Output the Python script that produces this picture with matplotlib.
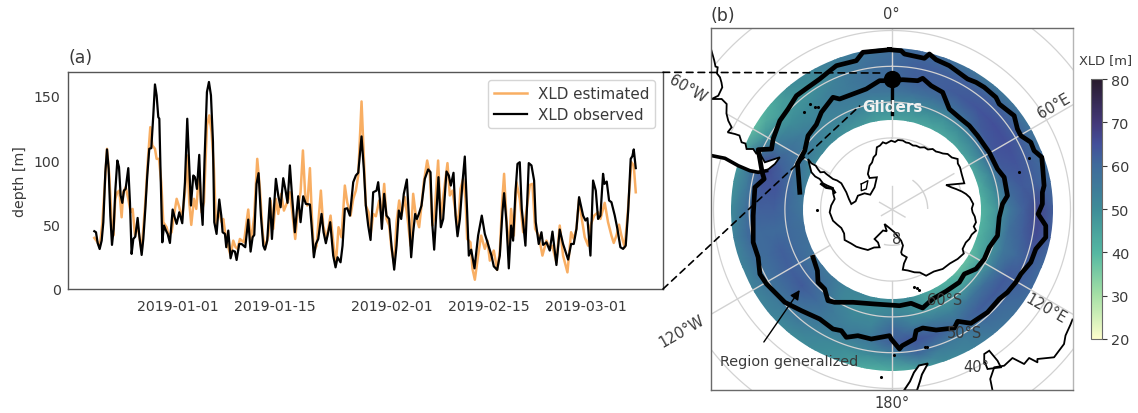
"""
XLD time series at the gliders and Southern Ocean map of XLD
"""
import matplotlib
matplotlib.use('Agg')
import matplotlib.pyplot as plt
import matplotlib.dates as mdates
import numpy as np
import pandas as pd
from matplotlib.colors import LinearSegmentedColormap
from matplotlib.patches import ConnectionPatch, Wedge

# panel (a): days since 2018-12-20 and depth in metres
obs_day = [0.0,.24,.48,.77,1.06,1.3,1.59,1.83,2.07,2.31,2.55,2.79,3.03,3.32,3.56,3.8,4.04,4.28,4.52,4.9,5.14,5.38,5.63,5.91,6.25,6.49,6.83,7.07,7.36,7.64,7.93,8.22,8.51,8.75,8.99,9.23,9.38,9.57,9.81,10.05,10.34,10.58,10.91,11.3,11.63,11.88,12.26,12.69,13.08,13.41,13.65,13.94,14.28,14.52,14.81,15.14,15.38,15.63,15.91,16.25,16.54,16.83,17.12,17.31,17.64,18.03,18.32,18.51,18.85,19.04,19.33,19.66,19.95,20.29,20.53,20.91,21.25,21.78,22.21,22.55,22.84,23.08,23.41,23.7,24.04,24.38,24.62,24.95,25.34,25.63,26.2,26.54,26.88,27.26,27.6,27.88,28.22,28.56,28.94,29.42,29.76,30.14,30.53,31.11,31.35,31.68,31.97,32.31,32.79,33.08,33.41,33.75,34.04,34.47,34.81,35.1,35.53,35.82,36.15,36.49,36.88,37.36,37.74,38.08,38.56,38.89,39.18,39.52,39.86,
           40.24,40.72,40.96,41.2,41.49,41.83,42.16,42.55,42.88,43.27,43.61,43.94,44.28,44.66,45.1,45.38,45.72,46.01,46.3,46.54,46.83,47.21,47.69,48.17,48.51,48.75,49.04,49.28,49.66,50.0,50.34,50.82,51.15,51.44,51.83,52.12,52.41,52.75,53.13,53.46,53.8,54.04,54.38,54.86,55.38,55.91,56.35,56.73,57.31,57.64,58.13,58.51,58.89,59.13,59.47,59.81,60.14,60.43,60.77,61.06,61.39,61.68,62.21,62.69,63.08,63.46,63.7,64.13,64.52,64.76,65.24,65.72,66.11,66.68,67.16,67.64,68.37,68.8,69.18,69.57,69.95,70.53,70.87,71.15,71.59,71.97,72.36,72.69,73.03,73.41,73.61,73.94,74.28,74.62,75.1,75.48,75.91,76.3,76.68,77.02,77.4,77.64,77.84,78.13]
obs_depth = [44.8,44,35.7,31,37.5,51.8,90.6,108.2,93.2,56.9,34.2,46.6,76.3,99.6,94.5,72.5,66.8,76.3,77.6,93.7,67.3,27.2,38.8,40.6,55.1,41.4,26.4,38.8,62.1,88,108.7,109.2,134.6,158.6,150.1,133.3,132,88,36.2,49.2,45.3,42.7,35.7,61.6,54.9,50.5,59.5,51,82.8,132,100.9,64.7,88,86.7,77.6,104,67.3,49.7,100.9,152.7,160.5,150.1,113.9,51.8,42.7,69.4,56.9,44,42.7,32.4,45.3,23.8,29.8,29,22.5,34.9,34.9,32.4,53.8,29,40.1,41.9,81.5,89.8,56.9,33.6,30.5,37.5,70.4,38.8,85.4,72.5,63.4,85.9,76.3,66.8,95.8,69.9,44,71.9,51.8,71.9,66,65.5,49.2,24.6,34.9,38.8,58.2,44,35.5,44,51.8,25.9,16.8,24.6,20.7,33.6,62.1,62.6,56.9,82.8,88,90.1,118.3,93.2,64.7,49.2,38,
             75,76.3,82.8,69.9,46.6,73.8,56.9,54.3,33.6,15,33.6,60.8,54.3,73.8,84.9,56.9,24.6,44,58.2,54.3,58.2,64.7,85.4,92.7,90.6,51.8,30.5,51.8,86.7,47.9,54.3,91.1,88,80.2,90.1,56.9,40.9,54.3,82.8,102.7,59.5,25.9,30.5,16,41.4,56.9,42.7,36.2,25.9,17.6,14.8,25.9,59.5,74.3,51.8,16,49.2,37.5,75,97,98.3,62.1,33.6,97.6,95.8,84.1,51.8,34.9,44,34.2,36.2,29.8,44.5,18.6,46.1,34.9,22.8,34.9,34.9,46.6,71.2,56.9,53.1,54.9,25.9,84.1,76.3,54.3,56.9,89.3,81.5,83.3,68.6,67.3,56.9,46.6,32.4,31.1,33.6,59.5,100.9,103,108.2,93.7]
est_day = [0,.48,.77,1.15,1.54,1.83,2.16,2.5,2.74,3.03,3.32,3.61,3.94,4.18,4.52,4.9,5.24,5.53,5.87,6.25,6.83,7.36,7.74,8.08,8.37,8.75,8.99,9.33,9.66,9.95,10.43,10.72,11.15,11.49,11.88,12.26,12.64,13.08,13.41,13.7,13.99,14.38,14.71,15.14,15.48,15.82,16.25,16.59,16.92,17.26,17.55,17.98,18.37,18.61,18.94,19.33,19.66,20.05,20.38,20.67,21.01,21.59,22.21,22.6,23.08,23.51,23.89,24.28,24.62,25.1,25.43,25.82,26.2,26.54,26.97,27.36,27.84,28.22,28.56,28.99,29.42,29.76,30.1,30.43,30.72,31.11,31.39,31.68,32.07,32.69,33.03,33.51,34.09,34.57,34.86,35.24,35.67,36.15,36.49,36.97,37.36,37.74,38.08,38.56,38.89,39.18,39.57,39.86,
           40.24,40.63,41.11,41.44,41.83,42.16,42.55,42.88,43.27,43.61,43.99,44.33,44.81,45.29,45.63,46.01,46.39,46.87,47.21,47.55,48.03,48.41,48.8,49.08,49.61,50.0,50.43,50.96,51.3,51.68,52.12,52.5,52.84,53.22,53.56,53.8,54.28,54.57,54.91,55.38,55.82,56.35,56.73,57.07,57.64,58.13,58.51,58.85,59.13,59.47,59.81,60.14,60.53,60.91,61.39,61.88,62.26,62.84,63.22,63.61,64.13,64.66,65.24,65.72,66.06,66.68,67.16,67.64,68.27,68.8,69.18,69.57,69.95,70.38,70.77,71.25,71.59,72.12,72.69,73.03,73.65,74.13,74.62,74.95,75.34,75.72,76.06,76.54,77.02,77.5,77.84,78.13]
est_depth = [39.6,36.2,32.4,50.5,82.8,108.7,88,51.8,41.4,69.9,75,76.3,55.6,75,78.9,69.9,59.5,62.1,41.4,49.2,29.8,67.3,100.9,125.5,111.3,108.7,100.9,100.9,82.8,51.8,47.9,41.4,44,56.9,69.9,63.4,54.3,75,103.5,67.3,49.7,69.9,62.1,90.6,59.5,67.3,126.8,134.6,121.6,93.2,49.2,60.8,51.8,54.3,41.4,32.4,25.9,37.5,32.4,31.1,38.8,36.2,61.6,36.2,56.9,100.9,77.6,44,31.1,41.4,68.6,46.6,69.9,58.2,73.8,60.8,67.3,75,59.5,38.8,64.7,75,107.4,72.5,64.7,93.7,56.9,28.5,33.6,76.3,49.2,38.8,56.9,31.1,19.4,47.9,40.1,80.2,67.3,56.9,69.9,76.3,88,145.4,103.5,64.7,59.5,41.4,
             58.2,56.4,68.6,56.9,81.5,54.3,49.2,31.1,19.4,51.8,68.6,56.9,71.2,50.5,33.6,73.8,56.9,47.9,64.7,82.8,99.6,89.3,49.2,56.9,99.6,54.3,75,97.6,72.5,76.3,59.5,47.9,77.6,85.4,69.9,38.8,36.2,15.5,7.2,25.9,41.4,31.1,37.5,22,29.8,14.8,28.5,67.3,89.3,54.3,28.5,62.1,41.4,82.8,69.9,44,56.9,80.7,81.5,46.6,41.4,25.9,37.5,31.1,33.6,20.7,49.2,25.9,12.9,44,38.8,46.6,69.9,53.1,40.1,33.6,49.2,56.9,59.5,54.3,66.8,51.8,41.4,35.7,41.4,49.9,41.4,32.4,62.1,98.3,95.8,75]
date_ticks = ['2019-01-01', '2019-01-15', '2019-02-01', '2019-02-15', '2019-03-01']

# panel (b): mean XLD per longitude (rows, every 10 deg east of 0) and latitude (columns)
field_lat = [-45, -49, -53, -57, -61, -65]
field_lon = list(range(0, 370, 10))
field_xld = [
    [58,60,60,57,50,44],[60,62,62,58,50,44],[58,62,62,58,50,43],[56,62,63,58,49,43],
    [55,62,64,60,50,43],[56,62,65,63,52,44],[56,62,65,64,54,43],[58,62,64,63,52,42],
    [60,62,63,60,50,41],[62,67,62,56,47,40],[62,66,62,58,47,40],[60,63,60,56,47,40],
    [60,62,63,56,46,38],[58,60,63,58,46,37],[56,59,62,56,46,40],[53,55,59,53,47,42],
    [50,55,62,55,47,45],[45,60,64,55,50,50],[42,52,62,60,52,50],[42,50,56,52,50,50],
    [48,50,55,52,50,52],[50,52,55,55,52,52],[50,55,57,60,58,55],[52,55,60,63,60,56],
    [52,57,60,62,60,57],[52,58,60,62,60,58],[52,60,60,60,60,58],[50,58,62,62,60,56],
    [48,56,64,64,60,54],[45,60,66,62,58,52],[38,48,55,58,56,50],[42,46,50,54,54,50],
    [50,48,50,52,52,50],[52,50,53,54,52,48],[54,55,55,55,52,47],[56,58,58,56,50,45],
    [58,60,60,57,50,44]]
cbar_ticks = [20, 30, 40, 50, 60, 70, 80]

# outlines in map units, pole at (0, 0), 3.58 units per degree of latitude
outer_x = [-2.5,9.2,12.5,32.5,37.5,44.2,57.5,75.8,84.2,92.5,104.2,107.5,122.5,125.8,129.2,139.2,142.5,150.2,151.5,152.5,150.8,150.8,146.5,154.2,154.2,144.2,139.2,129.2,124.2,115.8,107.5,95.8,79.2,65.8,62.5,44.2,30.8,24.2,22.5,10.2,7.5,-0.8,-2.5,-20.8,-34.2,-45.8,-50.8,-59.2,-72.5,-90.8,-107.5,-125.8,-132.5,-134.2,-139.2,-139.2,-137.5,-128.2,-130.2,-132.5,-134.2,-120.8,-119.2,-112.5,-104.2,-95.8,-84.2,-72.5,-64.2,-55.8,-35.8,-29.2,-2.5]
outer_y = [159.8,158.8,155.5,151.2,155.5,149.8,143.8,130.5,127.2,122.2,112.2,105.5,93.8,80.5,73.8,67.2,58.8,52.2,37.2,23.8,17.2,5.5,-4.5,-16.2,-27.8,-39.5,-52.8,-64.5,-72.8,-82.8,-89.5,-102.8,-113.8,-111.8,-118.5,-120.5,-118.5,-121.2,-129.5,-136.2,-139.5,-129.5,-126.2,-129.5,-126.2,-127.8,-121.2,-119.5,-109.5,-101.2,-92.8,-74.5,-64.5,-47.8,-32.8,-6.2,22.2,30.5,37.2,50.5,59.8,60.5,70.5,88.8,100.5,113.8,122.2,130.5,137.2,143.8,148.8,157.2,159.8]
inner_x = [-92.5,-93.5,-94.8,-87.5,-84.2,-75.8,-70.8,-59.2,-52.5,-25.8,-12.5,-2.5,10.8,25.8,30.8,39.2,50.8,57.5,69.2,77.5,85.8,97.5,105.8,112.5,115.8,110.8,107.5,105.8,97.5,92.5,84.2,72.5,67.5,54.2,40.8,30.8,19.2,7.5,-2.5,-17.5,-39.2,-57.5,-64.2,-67.5,-74.2,-74.8,-79.2]
inner_y = [17.2,30.5,45.5,58.8,73.8,85,97.2,112.2,110.5,120.5,128.8,128.8,129.8,128.8,131.2,123.8,117.2,100.5,90.5,83.8,73.8,57.2,40.5,32.2,13.8,5.5,-7.8,-26.2,-37.8,-49.5,-59.5,-64.5,-72.8,-81.8,-89.5,-98.5,-93.8,-96.2,-95.5,-94.5,-92.8,-92.8,-91.2,-79.5,-72.8,-61.2,-47.8]
antarctica_x = [-84.2,-80.8,-76.5,-74,-71.8,-68,-65.8,-59.2,-55,-50.8,-45.8,-43.2,-40.8,-36.5,-34.2,-27.5,-21.8,-17.5,-15.2,-22.5,-24.2,-22.5,-20,-18.5,-16,-15.2,-12,-9.2,-6,-0.8,3,6,10.8,14,17,21,24.2,28,32.5,36,40.8,44,47.5,51,55.8,60,65.8,66,68.2,70,72.5,54.2,60,64.2,70,74.2,78,81.5,80,80.8,83,84.2,82,84.2,80,77.5,74,70.8,72,65.8,58,50.8,42,34.2,28,22.5,16,10.8,12,14.8,10,9.2,11,9.2,2.5,-2,-7.5,-5.2,-9,-12.5,-17.5,-14,-12.5,-18,-24.2,-30,-35.8,-41,-47.5,-48,-50.8,-55,-59.2,-62.5,-61,-57.5,-59,-59.2,-65,-69.2,-72.5,-77,-80.8,-84.2]
antarctica_y = [50.5,46.2,43.8,40,37.2,37.5,35.5,30.5,29,26.2,17.2,10.5,5.5,8.2,13.8,16.2,14.8,22.2,32.2,31.5,35.5,43.8,47,52.2,55,62.2,64,67.2,66,68.8,67.5,69.5,69,67,66.5,64,63.8,62,62.2,60,60.5,58,57.2,56,55.5,52,50.5,46,42.2,35,26.2,24.5,22,20.5,18,15.5,12,5.5,1,-2.8,-7,-12.8,-17,-21.2,-25,-29.5,-33,-39.5,-44,-49.5,-54,-59.5,-62,-66.2,-63,-62.8,-61,-60.2,-54,-47.8,-45,-42.8,-36,-31.2,-22.8,-19,-14.5,-21.8,-21,-24.5,-29.5,-33,-37.8,-38,-40.5,-39,-37.2,-34,-30.5,-24,-18.5,-15,-11.2,-2.8,4,10.5,16,21.5,24,26.2,30.5,33,37.2,50.5]
shelf_x = [-30.8,-24.2,-25.8,-30.8,-30.8]
shelf_y = [25.5,28.8,20.5,18.8,25.5]
peninsula_isles_x = [-70.8,-66,-60,-57.5]
peninsula_isles_y = [25.5,22,21,17.2]
samerica_x = [-181.5,-181.5,-178.2,-177,-174.8,-175.5,-172.5,-171,-170.2,-174.2,-180.8,-170.8,-165.8,-166,-164.2,-160.8,-164.8,-157.5,-153,-150.8,-147,-145.8,-139.2,-135.8,-134.2,-127.5,-112.5,-117.5,-125.8,-134.2,-142.5,-154.2,-167.5,-181.5,-181.5]
samerica_y = [185,160.5,148.8,143,142.2,136,132.2,127,122.2,113.8,110.5,110.5,105.5,96,88.8,82.2,77.2,75.5,74,67.2,66,60.5,60.5,55.5,58.8,47.2,52.2,45.5,38.8,37.2,38.8,43.8,51.2,54,54]
scape_x = [-181.5,-167.5,-154.2,-142.5,-134.2,-125.8]
scape_y = [54,51.2,43.8,38.8,37.2,38.8]
zealand_x = [36,30,28,25,12,18,22,27,36]
zealand_y = [-154,-165,-172,-181,-181,-172,-163,-156,-154]
australia_x = [100.8,98.5,102.5,112.5,120.8,132.5,137.5,145.8,145.8,162.5,172.5,174,179,181]
australia_y = [-181,-169.5,-157.8,-156.2,-148.5,-154.5,-148.5,-152.8,-149.5,-147.8,-134.5,-126,-115,-110]
tasmania_x = [92.5,97.5,105.8,109.2,95.8,92.5,92.5]
tasmania_y = [-144.5,-141.2,-151.2,-157.8,-159.5,-151.2,-144.5]
island_x = [137.5,127,33.5,2.5,-11,-74.8,-77.5,-74.5,-88.5,-82,22.5,25,27.5,35]
island_y = [52,38,-137,-145,-167.2,-0.2,102.8,102.8,98,106,-77.2,-78.8,-80.5,-137]

LAT_SCALE = 3.58   # map units per degree of latitude
DARK = '#3a3a3a'
GRID = '#d2d2d2'
W, H = 1138.0, 414.0

deep = LinearSegmentedColormap.from_list('deep_like', [
    (0.0, '#fdfecc'), (0.17, '#a3dfa5'), (0.33, '#55b8a2'), (0.5, '#3e8c98'),
    (0.67, '#3f6a9b'), (0.75, '#43509a'), (0.83, '#43397a'), (1.0, '#281a2c')])

def to_map(lon, lat):
    """Polar stereo-like projection, 0 deg up, east to the right"""
    r = (90 + np.asarray(lat, dtype=float)) * LAT_SCALE
    theta = np.radians(lon)
    return r * np.sin(theta), r * np.cos(theta)

def axes_box(left, top, right, bottom):
    """Axes rectangle from pixel edges"""
    return [left / W, 1 - bottom / H, (right - left) / W, (bottom - top) / H]

fig = plt.figure(figsize=(W / 100, H / 100), dpi=100)

# (a) time series
ax1 = fig.add_axes(axes_box(67.5, 73.3, 663, 290))
start = pd.Timestamp('2018-12-20')
ax1.plot(start + pd.to_timedelta(est_day, unit='D'), est_depth, color='#f79a3c', alpha=0.8,
         linewidth=1.8, label='XLD estimated')
ax1.plot(start + pd.to_timedelta(obs_day, unit='D'), obs_depth, color='black',
         linewidth=1.6, label='XLD observed')
ax1.set_xlim(start + pd.Timedelta(days=-3.87), start + pd.Timedelta(days=82.06))
ax1.set_ylim(0, 168)
ax1.set_xticks([pd.Timestamp(d) for d in date_ticks])
ax1.xaxis.set_major_formatter(mdates.DateFormatter('%Y-%m-%d'))
ax1.set_yticks([0, 50, 100, 150])
ax1.tick_params(axis='both', length=0, labelsize=10.2, labelcolor=DARK, pad=5)
ax1.tick_params(axis='x', pad=7)
ax1.set_ylabel('depth [m]', fontsize=10.2, color=DARK, labelpad=5)
for spine in ax1.spines.values():
    spine.set_edgecolor('#555555')
    spine.set_linewidth(1.0)
ax1.legend(loc='upper right', bbox_to_anchor=(0.9866, 0.9645), borderaxespad=0, fontsize=10.9,
           labelcolor=DARK, framealpha=1, edgecolor='#d5d5d5', handlelength=2.2,
           handletextpad=0.7, labelspacing=0.42, borderpad=0.4)
fig.text(68 / W, 1 - 58 / H, '(a)', fontsize=12.5, color=DARK, va='center')

# (b) map
ax2 = fig.add_axes(axes_box(711, 29, 1073, 391))
ax2.set_xlim(-181.5, 181.5)
ax2.set_ylim(-180.5, 181.5)
lat_edges = np.array(field_lat, dtype=float)
lat_edges[0] += 0.5
lat_edges[-1] -= 0.5
lon_grid, lat_grid = np.meshgrid(field_lon, lat_edges, indexing='ij')
mesh_x, mesh_y = to_map(lon_grid, lat_grid)
mesh = ax2.pcolormesh(mesh_x, mesh_y, np.array(field_xld), cmap=deep, vmin=20, vmax=80,
                      shading='gouraud', zorder=1)
r_out = (90 + field_lat[0]) * LAT_SCALE
r_in = (90 + field_lat[-1]) * LAT_SCALE
mesh.set_clip_path(Wedge((0, 0), r_out, 0, 360, width=r_out - r_in, transform=ax2.transData))

# graticule under the land
circle_lon = np.arange(0, 361, 2)
for lat in [-26, -40, -50, -60, -70]:
    cx, cy = to_map(circle_lon, lat)
    ax2.plot(cx, cy, color=GRID, linewidth=0.9, zorder=2)
for lon in [0, 60, 120, 180, 240, 300]:
    mx, my = to_map(lon, [-70, -20])
    ax2.plot(mx, my, color=GRID, linewidth=1.0, zorder=2)

# land
ax2.fill(antarctica_x, antarctica_y, facecolor='white', edgecolor='black', linewidth=1.3, zorder=4)
ax2.plot(shelf_x, shelf_y, color='black', linewidth=1.0, zorder=4)
ax2.plot(peninsula_isles_x, peninsula_isles_y, color='black', linewidth=2.0, zorder=4)
ax2.fill(samerica_x, samerica_y, facecolor='white', edgecolor='black', linewidth=1.3, zorder=4)
ax2.plot(scape_x, scape_y, color='black', linewidth=2.6, zorder=4)
ax2.fill(zealand_x, zealand_y, facecolor='white', edgecolor='black', linewidth=1.4, zorder=4)
ax2.fill(tasmania_x, tasmania_y, facecolor='white', edgecolor='black', linewidth=1.3, zorder=4)
ax2.plot(australia_x, australia_y, color='black', linewidth=1.3, zorder=4)
ax2.scatter(island_x, island_y, s=5, color='black', linewidths=0, zorder=4)

# grid bits that show over the land
for lon, lat_end in [(0, -83.3), (60, -70), (120, -85.8), (180, -86), (240, -86.6), (300, -86)]:
    mx, my = to_map(lon, [-90, lat_end])
    ax2.plot(mx, my, color=GRID, linewidth=1.0, zorder=5)
for lon_a, lon_b in [(36, 88), (168, 192)]:
    ax, ay = to_map(np.arange(lon_a, lon_b + 1, 2), -80)
    ax2.plot(ax, ay, color=GRID, linewidth=1.0, zorder=5)

# region outlines and glider track
ax2.plot(outer_x, outer_y, color='black', linewidth=3.4, solid_joinstyle='round', zorder=6)
ax2.plot(inner_x, inner_y, color='black', linewidth=3.4, solid_joinstyle='round', zorder=6)
gx, gy = to_map(0, [-53.5, -57, -60, -63.3])
ax2.plot(gx, gy, color='black', linewidth=2.4, zorder=7)
ax2.plot(gx[0], gy[0], 'o', color='black', markersize=12.5, markeredgewidth=0, zorder=7)

label_style = dict(color=DARK, fontsize=10.5, ha='center', va='center', clip_on=False, zorder=9)
for text, x, y, rot in [('0°', 892, 14, 0), ('180°', 892, 404, 0), ('60°E', 1055, 106, 30),
                        ('120°E', 1047, 309, -30), ('60°W', 688, 89, -30), ('120°W', 682, 332, 30),
                        ('60°S', 945, 301, 0), ('50°S', 965, 334, 0), ('40°', 977, 368, 0),
                        ('8', 897, 240, 0)]:
    ax2.text(x - 892.5, 210.5 - y, text, rotation=rot, **label_style)
ax2.text(0, 103.5, 'Gliders', color='#f2f2f2', fontsize=11, fontweight='bold', ha='center',
         va='center', zorder=9)
ax2.text(720 - 892.5, 210.5 - 362, 'Region generalized', color=DARK, fontsize=10.4, ha='left',
         va='center', zorder=9)
ax2.annotate('', xy=(800 - 892.5, 210.5 - 291), xytext=(764 - 892.5, 210.5 - 343), zorder=9,
             arrowprops=dict(arrowstyle='-|>', color='black', linewidth=1.0, mutation_scale=14,
                             shrinkA=0, shrinkB=0))
ax2.set_xticks([])
ax2.set_yticks([])
for name, spine in ax2.spines.items():
    spine.set_edgecolor('#6a6a6a' if name in ('left', 'top', 'bottom') else '#b5b5b5')
    spine.set_linewidth(1.0)
    spine.set_zorder(8)
fig.text(711 / W, 1 - 16 / H, '(b)', fontsize=12.5, color=DARK, va='center')

# dashed links from panel (a) to the glider position
for xa, ya, xb, yb in [(1, 1, -9.5, 136.5), (1, 0, -32.5, 103.5)]:
    link = ConnectionPatch(xyA=(xa, ya), coordsA=ax1.transAxes, xyB=(xb, yb), coordsB=ax2.transData,
                           linestyle=(0, (4, 3)), linewidth=1.2, color='black', zorder=10)
    fig.add_artist(link)

# colorbar
cax = fig.add_axes(axes_box(1091, 80, 1102, 340))
cbar = fig.colorbar(mesh, cax=cax, ticks=cbar_ticks)
cbar.ax.tick_params(length=3.5, width=0.8, color=DARK, labelsize=10.4, labelcolor=DARK, pad=3)
cbar.outline.set_edgecolor('#6a6a6a')
cbar.outline.set_linewidth(0.8)
fig.text(1105.5 / W, 1 - 61 / H, 'XLD [m]', fontsize=9.4, color=DARK, ha='center', va='center')

fig.savefig('out.png', dpi=100, facecolor='white')
